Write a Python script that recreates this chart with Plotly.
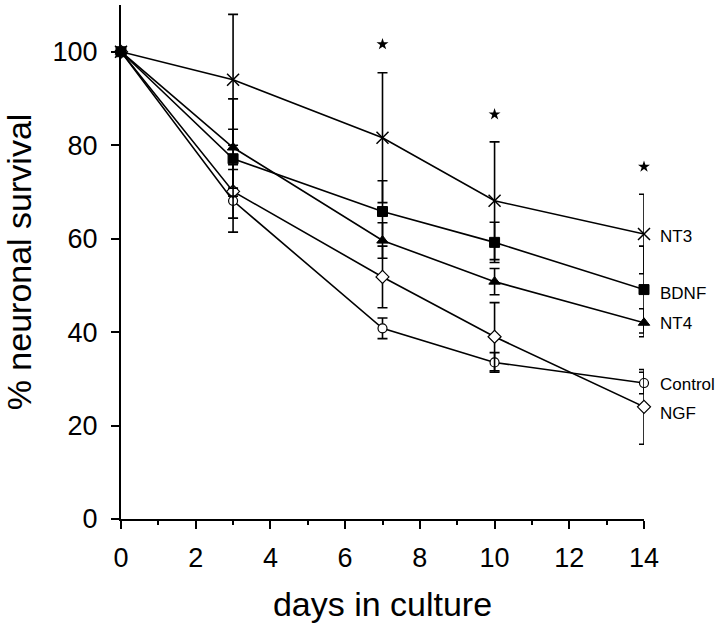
import plotly.graph_objects as go

days = [0, 3, 7, 10, 14]

nt3 = [100, 94.0, 81.6, 68.1, 61.0]
nt3_err = [0, 14.0, 13.9, 12.6, 8.5]
bdnf = [100, 77.1, 65.8, 59.2, 49.1]
bdnf_err = [0, 6.3, 6.6, 4.3, 9.3]
nt4 = [100, 79.5, 59.6, 50.8, 42.0]
nt4_err = [0, 10.4, 3.8, 2.8, 3.0]
ngf = [100, 70.1, 51.8, 39.0, 24.0]
ngf_err = [0, 5.7, 6.6, 7.3, 8.0]
control = [100, 68.1, 40.8, 33.5, 29.1]
control_err = [0, 6.7, 2.2, 2.1, 2.3]

star_days = [7, 10, 14]
star_y = [101.6, 86.6, 75.4]

label_names = ["NT3", "BDNF", "NT4", "Control", "NGF"]
label_y = [60.4, 48.3, 41.9, 28.7, 22.6]

FONT = "Liberation Sans, Arial, sans-serif"

fig = go.Figure()

series = [
    (control, control_err, dict(symbol="circle", size=9, color="white", line=dict(color="black", width=1.2))),
    (ngf, ngf_err, dict(symbol="diamond", size=10, color="white", line=dict(color="black", width=1.2))),
    (nt4, nt4_err, dict(symbol="triangle-up", size=10, color="black", line=dict(color="black", width=1))),
    (nt3, nt3_err, dict(symbol="x-thin-open", size=12, color="black", line=dict(color="black", width=1.5))),
    (bdnf, bdnf_err, dict(symbol="square", size=10, color="black", line=dict(color="black", width=1))),
]

for vals, errs, mk in series:
    fig.add_trace(go.Scatter(
        x=days, y=vals, mode="lines+markers",
        line=dict(color="black", width=1.6),
        marker=mk,
        error_y=dict(type="data", array=errs, visible=True, color="black", thickness=1.6, width=5),
        cliponaxis=False, showlegend=False,
    ))

fig.add_trace(go.Scatter(
    x=star_days, y=star_y, mode="markers",
    marker=dict(symbol="star", size=9, color="black"),
    cliponaxis=False, showlegend=False,
))

for name, yv in zip(label_names, label_y):
    fig.add_annotation(x=14, y=yv, text=name, showarrow=False, xanchor="left",
                       xshift=14, font=dict(family=FONT, size=17, color="black"))

fig.update_layout(
    width=720, height=631,
    margin=dict(l=121, r=76, t=5, b=112),
    paper_bgcolor="white", plot_bgcolor="white",
    font=dict(family=FONT, color="black"),
)
fig.update_xaxes(
    range=[0, 14], tickvals=[0, 2, 4, 6, 8, 10, 12, 14],
    ticks="outside", ticklen=8, tickwidth=1.5, tickcolor="black",
    minor=dict(tickvals=[1, 3, 5, 7, 9, 11, 13], ticks="outside", ticklen=4, tickwidth=1.5, tickcolor="black"),
    showline=True, linecolor="black", linewidth=2, showgrid=False, zeroline=False,
    tickfont=dict(family=FONT, size=27), ticklabelstandoff=6,
    automargin=False,
    title=dict(text="days in culture", font=dict(family=FONT, size=34), standoff=20),
)
fig.update_yaxes(
    range=[0, 110], tickvals=[0, 20, 40, 60, 80, 100],
    ticks="outside", ticklen=8, tickwidth=1.5, tickcolor="black",
    showline=True, linecolor="black", linewidth=2, showgrid=False, zeroline=False,
    tickfont=dict(family=FONT, size=27), ticklabelstandoff=8,
    automargin=False,
    title=dict(text="% neuronal survival", font=dict(family=FONT, size=34), standoff=22),
)

fig.write_html("out.html", config={"displayModeBar": False},
               post_script="document.body.style.margin='0';")
